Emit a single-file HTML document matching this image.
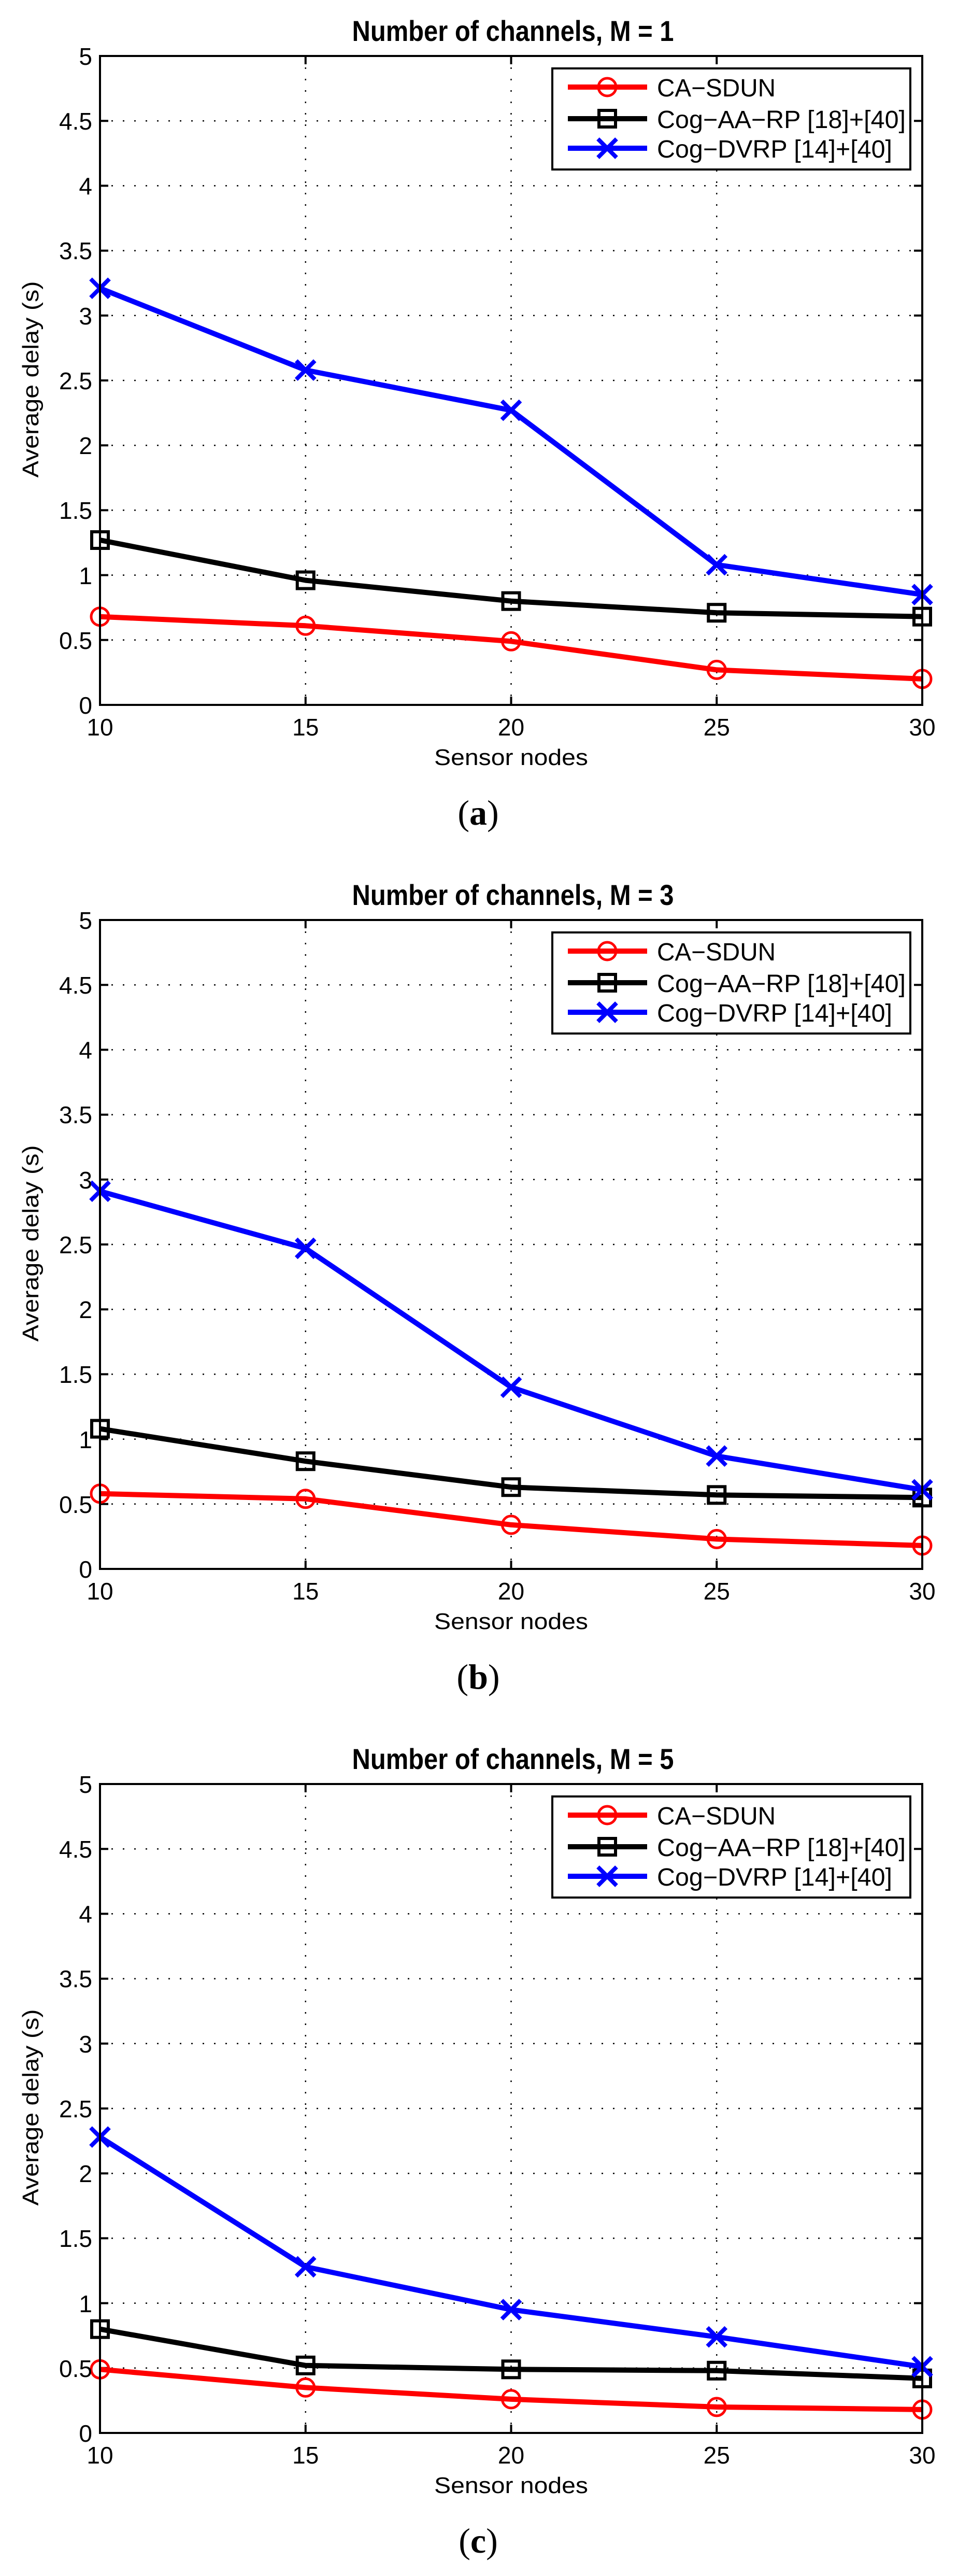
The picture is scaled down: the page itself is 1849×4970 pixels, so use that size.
<!DOCTYPE html>
<html><head><meta charset="utf-8"><style>
html,body{margin:0;padding:0;background:#fff}
svg{display:block}
text{font-family:"Liberation Sans",sans-serif}
</style></head><body>
<svg width="1849" height="4970" viewBox="0 0 1849 4970" xmlns="http://www.w3.org/2000/svg">
<defs>
<marker id="mo" markerUnits="userSpaceOnUse" markerWidth="50" markerHeight="50" refX="25" refY="25" viewBox="0 0 50 50"><circle cx="25" cy="25" r="17" fill="none" stroke="#f00" stroke-width="5"/></marker>
<marker id="ms" markerUnits="userSpaceOnUse" markerWidth="50" markerHeight="50" refX="25" refY="25" viewBox="0 0 50 50"><rect x="9" y="9" width="32" height="32" fill="none" stroke="#000" stroke-width="6"/></marker>
<marker id="mx" markerUnits="userSpaceOnUse" markerWidth="50" markerHeight="50" refX="25" refY="25" viewBox="0 0 50 50"><path d="M7 7L43 43M43 7L7 43" stroke="#00f" stroke-width="8"/></marker>
</defs>

<!-- PLOT 1 -->
<g transform="translate(0,0)">
<text x="990" y="79" font-size="56" font-weight="bold" text-anchor="middle" textLength="621" lengthAdjust="spacingAndGlyphs">Number of channels, M = 1</text>
<g stroke="#000" stroke-width="2.5" stroke-dasharray="3 19" fill="none">
<path d="M589.75 108V1360M986.5 108V1360M1383.25 108V1360"/>
<path d="M193 1234.8H1780M193 1109.6H1780M193 984.4H1780M193 859.2H1780M193 734H1780M193 608.8H1780M193 483.6H1780M193 358.4H1780M193 233.2H1780"/>
</g>
<g stroke="#000" stroke-width="4" fill="none">
<path d="M193 1234.8h16M193 1109.6h16M193 984.4h16M193 859.2h16M193 734h16M193 608.8h16M193 483.6h16M193 358.4h16M193 233.2h16"/>
<path d="M1780 1234.8h-16M1780 1109.6h-16M1780 984.4h-16M1780 859.2h-16M1780 734h-16M1780 608.8h-16M1780 483.6h-16M1780 358.4h-16M1780 233.2h-16"/>
<path d="M589.75 1360v-16M986.5 1360v-16M1383.25 1360v-16M589.75 108v16M986.5 108v16M1383.25 108v16"/>
</g>
<polyline points="193,1189.7 589.75,1207.3 986.5,1237.3 1383.25,1292.4 1780,1309.9" fill="none" stroke="#f00" stroke-width="10" stroke-linejoin="round" marker-start="url(#mo)" marker-mid="url(#mo)" marker-end="url(#mo)"/>
<polyline points="193,1042 589.75,1119.6 986.5,1159.7 1383.25,1182.2 1780,1189.7" fill="none" stroke="#000" stroke-width="10" stroke-linejoin="round" marker-start="url(#ms)" marker-mid="url(#ms)" marker-end="url(#ms)"/>
<polyline points="193,556.2 589.75,714 986.5,791.6 1383.25,1089.6 1780,1147.2" fill="none" stroke="#00f" stroke-width="10" stroke-linejoin="round" marker-start="url(#mx)" marker-mid="url(#mx)" marker-end="url(#mx)"/>
<rect x="193" y="108" width="1587" height="1252" fill="none" stroke="#000" stroke-width="4"/>
<rect x="1066" y="132" width="691" height="195" fill="#fff" stroke="#000" stroke-width="4"/>
<path d="M1096 168H1249" stroke="#f00" stroke-width="10"/><circle cx="1172" cy="168" r="17" fill="none" stroke="#f00" stroke-width="5"/>
<path d="M1096 229H1249" stroke="#000" stroke-width="10"/><rect x="1156" y="213" width="32" height="32" fill="none" stroke="#000" stroke-width="6"/>
<path d="M1096 286H1249" stroke="#00f" stroke-width="10"/><path d="M1154 268L1190 304M1190 268L1154 304" stroke="#00f" stroke-width="8"/>
<g font-size="48">
<text x="1268" y="186" textLength="229" lengthAdjust="spacingAndGlyphs">CA−SDUN</text>
<text x="1268" y="247" textLength="480" lengthAdjust="spacingAndGlyphs">Cog−AA−RP [18]+[40]</text>
<text x="1268" y="304" textLength="454" lengthAdjust="spacingAndGlyphs">Cog−DVRP [14]+[40]</text>
</g>
<g font-size="46" text-anchor="end">
<text x="178" y="1377">0</text><text x="178" y="1252">0.5</text><text x="178" y="1127">1</text><text x="178" y="1001">1.5</text><text x="178" y="876">2</text><text x="178" y="751">2.5</text><text x="178" y="626">3</text><text x="178" y="500">3.5</text><text x="178" y="375">4</text><text x="178" y="250">4.5</text><text x="178" y="125">5</text>
</g>
<g font-size="46" text-anchor="middle">
<text x="193" y="1419">10</text><text x="589.75" y="1419">15</text><text x="986.5" y="1419">20</text><text x="1383.25" y="1419">25</text><text x="1780" y="1419">30</text>
</g>
<text x="986.5" y="1476" font-size="44" text-anchor="middle" textLength="297" lengthAdjust="spacingAndGlyphs">Sensor nodes</text>
<text transform="translate(74,732) rotate(-90)" font-size="44" text-anchor="middle" textLength="379" lengthAdjust="spacingAndGlyphs">Average delay (s)</text>
<text x="923" y="1591" font-size="68" text-anchor="middle" style="font-family:'Liberation Serif',serif">(<tspan font-weight="bold">a</tspan>)</text>
</g>

<!-- PLOT 2 -->
<g transform="translate(0,1667)">
<text x="990" y="79" font-size="56" font-weight="bold" text-anchor="middle" textLength="621" lengthAdjust="spacingAndGlyphs">Number of channels, M = 3</text>
<g stroke="#000" stroke-width="2.5" stroke-dasharray="3 19" fill="none">
<path d="M589.75 108V1360M986.5 108V1360M1383.25 108V1360"/>
<path d="M193 1234.8H1780M193 1109.6H1780M193 984.4H1780M193 859.2H1780M193 734H1780M193 608.8H1780M193 483.6H1780M193 358.4H1780M193 233.2H1780"/>
</g>
<g stroke="#000" stroke-width="4" fill="none">
<path d="M193 1234.8h16M193 1109.6h16M193 984.4h16M193 859.2h16M193 734h16M193 608.8h16M193 483.6h16M193 358.4h16M193 233.2h16"/>
<path d="M1780 1234.8h-16M1780 1109.6h-16M1780 984.4h-16M1780 859.2h-16M1780 734h-16M1780 608.8h-16M1780 483.6h-16M1780 358.4h-16M1780 233.2h-16"/>
<path d="M589.75 1360v-16M986.5 1360v-16M1383.25 1360v-16M589.75 108v16M986.5 108v16M1383.25 108v16"/>
</g>
<polyline points="193,1214.8 589.75,1224.8 986.5,1274.9 1383.25,1302.4 1780,1314.9" fill="none" stroke="#f00" stroke-width="10" stroke-linejoin="round" marker-start="url(#mo)" marker-mid="url(#mo)" marker-end="url(#mo)"/>
<polyline points="193,1089.6 589.75,1152.2 986.5,1202.2 1383.25,1217.3 1780,1222.3" fill="none" stroke="#000" stroke-width="10" stroke-linejoin="round" marker-start="url(#ms)" marker-mid="url(#ms)" marker-end="url(#ms)"/>
<polyline points="193,631.3 589.75,741.5 986.5,1009.4 1383.25,1142.2 1780,1207.3" fill="none" stroke="#00f" stroke-width="10" stroke-linejoin="round" marker-start="url(#mx)" marker-mid="url(#mx)" marker-end="url(#mx)"/>
<rect x="193" y="108" width="1587" height="1252" fill="none" stroke="#000" stroke-width="4"/>
<rect x="1066" y="132" width="691" height="195" fill="#fff" stroke="#000" stroke-width="4"/>
<path d="M1096 168H1249" stroke="#f00" stroke-width="10"/><circle cx="1172" cy="168" r="17" fill="none" stroke="#f00" stroke-width="5"/>
<path d="M1096 229H1249" stroke="#000" stroke-width="10"/><rect x="1156" y="213" width="32" height="32" fill="none" stroke="#000" stroke-width="6"/>
<path d="M1096 286H1249" stroke="#00f" stroke-width="10"/><path d="M1154 268L1190 304M1190 268L1154 304" stroke="#00f" stroke-width="8"/>
<g font-size="48">
<text x="1268" y="186" textLength="229" lengthAdjust="spacingAndGlyphs">CA−SDUN</text>
<text x="1268" y="247" textLength="480" lengthAdjust="spacingAndGlyphs">Cog−AA−RP [18]+[40]</text>
<text x="1268" y="304" textLength="454" lengthAdjust="spacingAndGlyphs">Cog−DVRP [14]+[40]</text>
</g>
<g font-size="46" text-anchor="end">
<text x="178" y="1377">0</text><text x="178" y="1252">0.5</text><text x="178" y="1127">1</text><text x="178" y="1001">1.5</text><text x="178" y="876">2</text><text x="178" y="751">2.5</text><text x="178" y="626">3</text><text x="178" y="500">3.5</text><text x="178" y="375">4</text><text x="178" y="250">4.5</text><text x="178" y="125">5</text>
</g>
<g font-size="46" text-anchor="middle">
<text x="193" y="1419">10</text><text x="589.75" y="1419">15</text><text x="986.5" y="1419">20</text><text x="1383.25" y="1419">25</text><text x="1780" y="1419">30</text>
</g>
<text x="986.5" y="1476" font-size="44" text-anchor="middle" textLength="297" lengthAdjust="spacingAndGlyphs">Sensor nodes</text>
<text transform="translate(74,732) rotate(-90)" font-size="44" text-anchor="middle" textLength="379" lengthAdjust="spacingAndGlyphs">Average delay (s)</text>
<text x="923" y="1591" font-size="68" text-anchor="middle" style="font-family:'Liberation Serif',serif">(<tspan font-weight="bold">b</tspan>)</text>
</g>

<!-- PLOT 3 -->
<g transform="translate(0,3334)">
<text x="990" y="79" font-size="56" font-weight="bold" text-anchor="middle" textLength="621" lengthAdjust="spacingAndGlyphs">Number of channels, M = 5</text>
<g stroke="#000" stroke-width="2.5" stroke-dasharray="3 19" fill="none">
<path d="M589.75 108V1360M986.5 108V1360M1383.25 108V1360"/>
<path d="M193 1234.8H1780M193 1109.6H1780M193 984.4H1780M193 859.2H1780M193 734H1780M193 608.8H1780M193 483.6H1780M193 358.4H1780M193 233.2H1780"/>
</g>
<g stroke="#000" stroke-width="4" fill="none">
<path d="M193 1234.8h16M193 1109.6h16M193 984.4h16M193 859.2h16M193 734h16M193 608.8h16M193 483.6h16M193 358.4h16M193 233.2h16"/>
<path d="M1780 1234.8h-16M1780 1109.6h-16M1780 984.4h-16M1780 859.2h-16M1780 734h-16M1780 608.8h-16M1780 483.6h-16M1780 358.4h-16M1780 233.2h-16"/>
<path d="M589.75 1360v-16M986.5 1360v-16M1383.25 1360v-16M589.75 108v16M986.5 108v16M1383.25 108v16"/>
</g>
<polyline points="193,1237.3 589.75,1272.4 986.5,1294.9 1383.25,1309.9 1780,1314.9" fill="none" stroke="#f00" stroke-width="10" stroke-linejoin="round" marker-start="url(#mo)" marker-mid="url(#mo)" marker-end="url(#mo)"/>
<polyline points="193,1159.7 589.75,1229.8 986.5,1237.3 1383.25,1239.8 1780,1254.8" fill="none" stroke="#000" stroke-width="10" stroke-linejoin="round" marker-start="url(#ms)" marker-mid="url(#ms)" marker-end="url(#ms)"/>
<polyline points="193,789.1 589.75,1039.5 986.5,1122.1 1383.25,1174.7 1780,1232.3" fill="none" stroke="#00f" stroke-width="10" stroke-linejoin="round" marker-start="url(#mx)" marker-mid="url(#mx)" marker-end="url(#mx)"/>
<rect x="193" y="108" width="1587" height="1252" fill="none" stroke="#000" stroke-width="4"/>
<rect x="1066" y="132" width="691" height="195" fill="#fff" stroke="#000" stroke-width="4"/>
<path d="M1096 168H1249" stroke="#f00" stroke-width="10"/><circle cx="1172" cy="168" r="17" fill="none" stroke="#f00" stroke-width="5"/>
<path d="M1096 229H1249" stroke="#000" stroke-width="10"/><rect x="1156" y="213" width="32" height="32" fill="none" stroke="#000" stroke-width="6"/>
<path d="M1096 286H1249" stroke="#00f" stroke-width="10"/><path d="M1154 268L1190 304M1190 268L1154 304" stroke="#00f" stroke-width="8"/>
<g font-size="48">
<text x="1268" y="186" textLength="229" lengthAdjust="spacingAndGlyphs">CA−SDUN</text>
<text x="1268" y="247" textLength="480" lengthAdjust="spacingAndGlyphs">Cog−AA−RP [18]+[40]</text>
<text x="1268" y="304" textLength="454" lengthAdjust="spacingAndGlyphs">Cog−DVRP [14]+[40]</text>
</g>
<g font-size="46" text-anchor="end">
<text x="178" y="1377">0</text><text x="178" y="1252">0.5</text><text x="178" y="1127">1</text><text x="178" y="1001">1.5</text><text x="178" y="876">2</text><text x="178" y="751">2.5</text><text x="178" y="626">3</text><text x="178" y="500">3.5</text><text x="178" y="375">4</text><text x="178" y="250">4.5</text><text x="178" y="125">5</text>
</g>
<g font-size="46" text-anchor="middle">
<text x="193" y="1419">10</text><text x="589.75" y="1419">15</text><text x="986.5" y="1419">20</text><text x="1383.25" y="1419">25</text><text x="1780" y="1419">30</text>
</g>
<text x="986.5" y="1476" font-size="44" text-anchor="middle" textLength="297" lengthAdjust="spacingAndGlyphs">Sensor nodes</text>
<text transform="translate(74,732) rotate(-90)" font-size="44" text-anchor="middle" textLength="379" lengthAdjust="spacingAndGlyphs">Average delay (s)</text>
<text x="923" y="1591" font-size="68" text-anchor="middle" style="font-family:'Liberation Serif',serif">(<tspan font-weight="bold">c</tspan>)</text>
</g>
</svg>
</body></html>
